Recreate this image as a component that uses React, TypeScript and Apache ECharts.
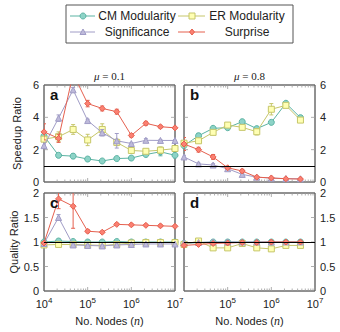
import React, { useEffect, useRef } from 'react';
import * as echarts from 'echarts';

// ---------- data ----------
const nodesMu01 = [10000, 21544, 46416, 100000, 215443, 464159, 1000000, 2154435, 4641589, 10000000];
const nodesMu08 = [10000, 21544, 46416, 100000, 215443, 464159, 1000000, 2154435, 4641589];

const methodNames = ['CM Modularity', 'ER Modularity', 'Significance', 'Surprise'];

// a: speedup, mu = 0.1
const speedA_CM = [2.85, 1.65, 1.6, 1.42, 1.3, 1.45, 1.48, 1.7, 1.87, 1.65];
const speedA_ER = [2.65, 2.8, 3.25, 2.6, 3.25, 2.45, 1.95, 1.9, 1.97, 2.07];
const speedA_Sig = [2.25, 3.95, 5.7, 3.8, 3.05, 2.55, 2.38, 2.58, 2.57, 2.57];
const speedA_Sur = [3.1, 2.7, 6.7, 4.85, 4.55, 4.35, 2.88, 3.63, 3.42, 3.35];
const errA_CM = [0.15, 0.08, 0.15, 0.08, 0.08, 0.08, 0.08, 0.1, 0.25, 0.15];
const errA_ER = [0.2, 0.3, 0.3, 0.35, 0.35, 0.2, 0.05, 0.1, 0.2, 0.15];
const errA_Sig = [0.1, 0.2, 0.15, 0.08, 0.2, 0.45, 0.05, 0.1, 0.05, 0.05];
const errA_Sur = [0.5, 0.25, 0.3, 0.2, 0.15, 0.15, 0.1, 0.12, 0.08, 0.08];

// b: speedup, mu = 0.8
const speedB_CM = [2.25, 2.86, 3.32, 3.36, 3.73, 3.3, 3.69, 4.87, 3.98];
const speedB_ER = [2.4, 2.55, 3.07, 3.52, 3.38, 3.11, 4.5, 4.74, 3.83];
const speedB_Sig = [1.55, 1.12, 1.05, 0.82, 0.47, 0.3, 0.24, 0.21, 0.2];
const speedB_Sur = [2.35, 2.0, 1.55, 0.88, 0.68, 0.3, 0.25, 0.2, 0.18];
const errB_CM = [0.1, 0.15, 0.1, 0.05, 0.08, 0.1, 0.05, 0.1, 0.1];
const errB_ER = [0.15, 0.1, 0.1, 0.1, 0.08, 0.2, 0.35, 0.1, 0.1];
const errB_Sig = [0.1, 0.05, 0.08, 0.05, 0.05, 0.03, 0.03, 0.03, 0.03];
const errB_Sur = [0.4, 0.15, 0.15, 0.05, 0.1, 0.05, 0.03, 0.03, 0.03];

// c: quality, mu = 0.1
const qualC_CM = [1.0, 1.02, 1.01, 1.0, 1.0, 1.01, 1.0, 1.0, 1.0, 1.0];
const qualC_ER = [0.94, 0.95, 0.95, 0.94, 0.93, 0.95, 0.98, 0.99, 0.99, 0.99];
const qualC_Sig = [0.97, 1.5, 0.94, 0.93, 0.92, 0.94, 0.95, 0.96, 0.96, 0.96];
const qualC_Sur = [0.98, 1.88, 1.73, 1.22, 1.2, 1.36, 1.35, 1.34, 1.33, 1.32];
const errC_CM = [0.01, 0.01, 0.01, 0.01, 0.01, 0.01, 0.01, 0.01, 0.01, 0.01];
const errC_ER = [0.01, 0.01, 0.01, 0.01, 0.01, 0.01, 0.01, 0.01, 0.01, 0.01];
const errC_Sig = [0.02, 0.06, 0.02, 0.02, 0.02, 0.02, 0.01, 0.01, 0.01, 0.01];
const errC_Sur = [0.02, 0.2, 0.45, 0.03, 0.02, 0.02, 0.02, 0.02, 0.02, 0.02];

// d: quality, mu = 0.8
const qualD_CM = [0.97, 0.99, 1.0, 1.0, 1.0, 1.0, 1.0, 1.0, 1.0];
const qualD_ER = [0.95, 1.02, 0.88, 0.88, 0.97, 0.88, 0.86, 0.93, 0.93];
const qualD_Sig = [0.98, 0.99, 1.0, 1.0, 1.0, 1.0, 1.0, 1.0, 1.0];
const qualD_Sur = [0.93, 0.95, 0.97, 0.98, 0.99, 0.99, 1.0, 1.0, 1.0];
const errD_CM = [0.01, 0.01, 0.01, 0.01, 0.01, 0.01, 0.01, 0.01, 0.01];
const errD_ER = [0.02, 0.04, 0.02, 0.02, 0.02, 0.02, 0.02, 0.02, 0.02];
const errD_Sig = [0.01, 0.01, 0.01, 0.01, 0.01, 0.01, 0.01, 0.01, 0.01];
const errD_Sur = [0.02, 0.02, 0.01, 0.01, 0.01, 0.01, 0.01, 0.01, 0.01];

const xTickValues = [
  10000, 20000, 30000, 40000, 50000, 60000, 70000, 80000, 90000,
  100000, 200000, 300000, 400000, 500000, 600000, 700000, 800000, 900000,
  1000000, 2000000, 3000000, 4000000, 5000000, 6000000, 7000000, 8000000, 9000000, 10000000,
];
const speedTicks = [2, 4];
const qualTicks = [0.5, 1, 1.5];

// ---------- styling ----------
const FONT = 'Liberation Sans';
const lineColors = ['#5bb3a3', '#c6c66a', '#a09cc6', '#e5604f'];
const fillColors = ['#8dd3c7', '#ffffb3', '#bebada', '#fb8072'];
const symbols = ['circle', 'rect', 'triangle', 'diamond'];
const symbolSizes = [6, 6, 6, 6];

const panels = [
  { x: nodesMu01, vals: [speedA_CM, speedA_ER, speedA_Sig, speedA_Sur], errs: [errA_CM, errA_ER, errA_Sig, errA_Sur], ymin: 0, ymax: 6, yint: 2, yTicks: speedTicks },
  { x: nodesMu08, vals: [speedB_CM, speedB_ER, speedB_Sig, speedB_Sur], errs: [errB_CM, errB_ER, errB_Sig, errB_Sur], ymin: 0, ymax: 6, yint: 2, yTicks: speedTicks },
  { x: nodesMu01, vals: [qualC_CM, qualC_ER, qualC_Sig, qualC_Sur], errs: [errC_CM, errC_ER, errC_Sig, errC_Sur], ymin: 0, ymax: 2, yint: 0.5, yTicks: qualTicks },
  { x: nodesMu08, vals: [qualD_CM, qualD_ER, qualD_Sig, qualD_Sur], errs: [errD_CM, errD_ER, errD_Sig, errD_Sur], ymin: 0, ymax: 2, yint: 0.5, yTicks: qualTicks },
];

const gridBoxes = [
  { left: 44, top: 85, width: 131, height: 97 },
  { left: 184, top: 85, width: 131, height: 97 },
  { left: 44, top: 193, width: 131, height: 98 },
  { left: 184, top: 193, width: 131, height: 98 },
];

const TICK_COLOR = '#9a9a9a';

function errRenderer(color: string) {
  return (params: any, api: any) => {
    const x = api.value(0);
    const y = api.value(1);
    const e = api.value(2);
    if (!e) return null;
    const top = api.coord([x, y + e]);
    const bot = api.coord([x, y - e]);
    const cap = 2;
    const st = { stroke: color, lineWidth: 1 };
    return {
      type: 'group',
      children: [
        { type: 'line', shape: { x1: top[0], y1: top[1], x2: bot[0], y2: bot[1] }, style: st },
        { type: 'line', shape: { x1: top[0] - cap, y1: top[1], x2: top[0] + cap, y2: top[1] }, style: st },
        { type: 'line', shape: { x1: bot[0] - cap, y1: bot[1], x2: bot[0] + cap, y2: bot[1] }, style: st },
      ],
    };
  };
}

function xTickRender(params: any, api: any) {
  const cs = params.coordSys;
  const v = api.value(0);
  const px = api.coord([v, api.value(1)])[0];
  const lg = Math.log10(v);
  const major = Math.abs(lg - Math.round(lg)) < 1e-6;
  const len = major ? 4 : 2.5;
  const st = { stroke: TICK_COLOR, lineWidth: 0.8 };
  const yb = cs.y + cs.height;
  return {
    type: 'group',
    children: [
      { type: 'line', shape: { x1: px, y1: yb, x2: px, y2: yb - len }, style: st },
      { type: 'line', shape: { x1: px, y1: cs.y, x2: px, y2: cs.y + len }, style: st },
    ],
  };
}

function yTickRender(params: any, api: any) {
  const cs = params.coordSys;
  const py = api.coord([api.value(0), api.value(1)])[1];
  const len = 4;
  const st = { stroke: TICK_COLOR, lineWidth: 0.8 };
  const xr = cs.x + cs.width;
  return {
    type: 'group',
    children: [
      { type: 'line', shape: { x1: cs.x, y1: py, x2: cs.x + len, y2: py }, style: st },
      { type: 'line', shape: { x1: xr, y1: py, x2: xr - len, y2: py }, style: st },
    ],
  };
}

function buildOption() {
  const series: any[] = [];
  panels.forEach((p, pi) => {
    series.push({
      type: 'custom',
      xAxisIndex: pi,
      yAxisIndex: pi,
      renderItem: xTickRender,
      data: xTickValues.map((v) => [v, p.ymin]),
      silent: true,
      z: 1,
    });
    series.push({
      type: 'custom',
      xAxisIndex: pi,
      yAxisIndex: pi,
      renderItem: yTickRender,
      data: p.yTicks.map((v) => [10000, v]),
      silent: true,
      z: 1,
    });
    p.vals.forEach((vals, mi) => {
      series.push({
        type: 'custom',
        name: methodNames[mi],
        xAxisIndex: pi,
        yAxisIndex: pi,
        clip: true,
        renderItem: errRenderer(lineColors[mi]),
        data: vals.map((v, k) => [p.x[k], v, p.errs[mi][k]]),
        silent: true,
        z: 2 + mi,
      });
      const s: any = {
        type: 'line',
        name: methodNames[mi],
        xAxisIndex: pi,
        yAxisIndex: pi,
        data: vals.map((v, k) => [p.x[k], v]),
        symbol: symbols[mi],
        symbolSize: symbolSizes[mi],
        showSymbol: true,
        clip: true,
        lineStyle: { color: lineColors[mi], width: 1 },
        itemStyle: { color: fillColors[mi], borderColor: lineColors[mi], borderWidth: 1 },
        z: 2 + mi,
        silent: true,
      };
      if (mi === 0) {
        s.markLine = {
          silent: true,
          symbol: 'none',
          label: { show: false },
          lineStyle: { color: '#000', width: 1, type: 'solid' },
          data: [{ yAxis: 1 }],
          z: 10,
        };
      }
      series.push(s);
    });
  });

  const supRich = {
    b: { fontSize: 11, fontFamily: FONT, color: '#222' },
    s: { fontSize: 8, fontFamily: FONT, color: '#222', padding: [0, 0, 7, 0] },
  };

  const xAxis = panels.map((p, i) => ({
    type: 'log',
    logBase: 10,
    gridIndex: i,
    min: 10000,
    max: 10000000,
    splitNumber: 3,
    axisLine: { show: false },
    axisTick: { show: false },
    splitLine: { show: false },
    axisLabel: {
      show: i >= 2,
      showMinLabel: i === 2,
      margin: 5,
      formatter: (v: number) => `{b|10}{s|${Math.round(Math.log10(v))}}`,
      rich: supRich,
    },
    name: i >= 2 ? 'No. Nodes ({i|n})' : '',
    nameLocation: 'middle',
    nameGap: 24,
    nameTextStyle: {
      fontSize: 11,
      fontFamily: FONT,
      color: '#222',
      rich: { i: { fontStyle: 'italic', fontFamily: 'Liberation Serif', fontSize: 12, color: '#222' } },
    },
  }));

  const yAxis = panels.map((p, i) => ({
    type: 'value',
    gridIndex: i,
    min: p.ymin,
    max: p.ymax,
    interval: p.yint,
    position: i % 2 === 0 ? 'left' : 'right',
    axisLine: { show: false },
    axisTick: { show: false },
    splitLine: { show: false },
    axisLabel: { fontSize: 11, fontFamily: FONT, color: '#222', margin: 5 },
    name: i === 0 ? 'Speedup Ratio' : i === 2 ? 'Quality Ratio' : '',
    nameLocation: 'middle',
    nameGap: 22,
    nameTextStyle: { fontSize: 11, fontFamily: FONT, color: '#222' },
  }));

  const grid = gridBoxes.map((g) => ({
    ...g,
    show: true,
    borderColor: '#222',
    borderWidth: 1,
    backgroundColor: 'transparent',
    containLabel: false,
  }));

  const graphic: any[] = [];
  // legend box
  graphic.push({
    type: 'rect',
    shape: { x: 66, y: 5, width: 227, height: 38 },
    style: { fill: '#fff', stroke: '#555', lineWidth: 1 },
    z: 100,
  });
  const legendItems = [
    { mi: 0, lx1: 70, lx2: 95, cx: 83, cy: 16, tx: 137 },
    { mi: 1, lx1: 178, lx2: 205, cx: 192, cy: 16, tx: 247 },
    { mi: 2, lx1: 70, lx2: 95, cx: 83, cy: 32, tx: 137 },
    { mi: 3, lx1: 178, lx2: 205, cx: 192, cy: 32, tx: 247 },
  ];
  legendItems.forEach((it) => {
    const lc = lineColors[it.mi];
    const fc = fillColors[it.mi];
    graphic.push({
      type: 'line',
      shape: { x1: it.lx1, y1: it.cy, x2: it.lx2, y2: it.cy },
      style: { stroke: lc, lineWidth: 1 },
      z: 101,
    });
    const mstyle = { fill: fc, stroke: lc, lineWidth: 1 };
    if (it.mi === 0) {
      graphic.push({ type: 'circle', shape: { cx: it.cx, cy: it.cy, r: 3 }, style: mstyle, z: 102 });
    } else if (it.mi === 1) {
      graphic.push({ type: 'rect', shape: { x: it.cx - 3, y: it.cy - 3, width: 6, height: 6 }, style: mstyle, z: 102 });
    } else if (it.mi === 2) {
      graphic.push({
        type: 'polygon',
        shape: { points: [[it.cx, it.cy - 3], [it.cx + 3, it.cy + 2.5], [it.cx - 3, it.cy + 2.5]] },
        style: mstyle,
        z: 102,
      });
    } else {
      graphic.push({
        type: 'polygon',
        shape: { points: [[it.cx, it.cy - 3], [it.cx + 2.5, it.cy], [it.cx, it.cy + 3], [it.cx - 2.5, it.cy]] },
        style: mstyle,
        z: 102,
      });
    }
    graphic.push({
      type: 'text',
      x: it.tx,
      y: it.cy,
      style: {
        text: methodNames[it.mi],
        fontSize: 12,
        fontFamily: FONT,
        fill: '#222',
        textAlign: 'center',
        textVerticalAlign: 'middle',
      },
      z: 102,
    });
  });

  // column titles
  const titles = [
    { text: '0.1', x: 109.5 },
    { text: '0.8', x: 249.5 },
  ];
  titles.forEach((t) => {
    graphic.push({
      type: 'text',
      x: t.x,
      y: 76,
      style: {
        text: `{m|μ} = ${t.text}`,
        fontSize: 11,
        fontFamily: 'Liberation Serif',
        fill: '#222',
        textAlign: 'center',
        textVerticalAlign: 'middle',
        rich: { m: { fontStyle: 'italic', fontFamily: 'Liberation Serif', fontSize: 11, fill: '#222' } },
      },
    });
  });

  // panel letters
  const letters = ['a', 'b', 'c', 'd'];
  letters.forEach((l, i) => {
    const g = gridBoxes[i];
    graphic.push({
      type: 'text',
      x: g.left + 6,
      y: g.top + 2,
      style: {
        text: l,
        fontSize: 15,
        fontWeight: 'bold',
        fontFamily: FONT,
        fill: '#111',
        textAlign: 'left',
        textVerticalAlign: 'top',
      },
      z: 50,
    });
  });

  return {
    animation: false,
    backgroundColor: '#fff',
    textStyle: { fontFamily: FONT },
    grid,
    xAxis,
    yAxis,
    series,
    graphic,
  };
}

export default function App() {
  const ref = useRef<HTMLDivElement>(null);
  useEffect(() => {
    if (!ref.current) return;
    const chart = echarts.init(ref.current, undefined, { renderer: 'svg' });
    chart.setOption(buildOption() as any);
    return () => chart.dispose();
  }, []);
  return (
    <div
      ref={ref}
      style={{ position: 'fixed', left: 0, top: 0, width: 340, height: 332 }}
    />
  );
}
